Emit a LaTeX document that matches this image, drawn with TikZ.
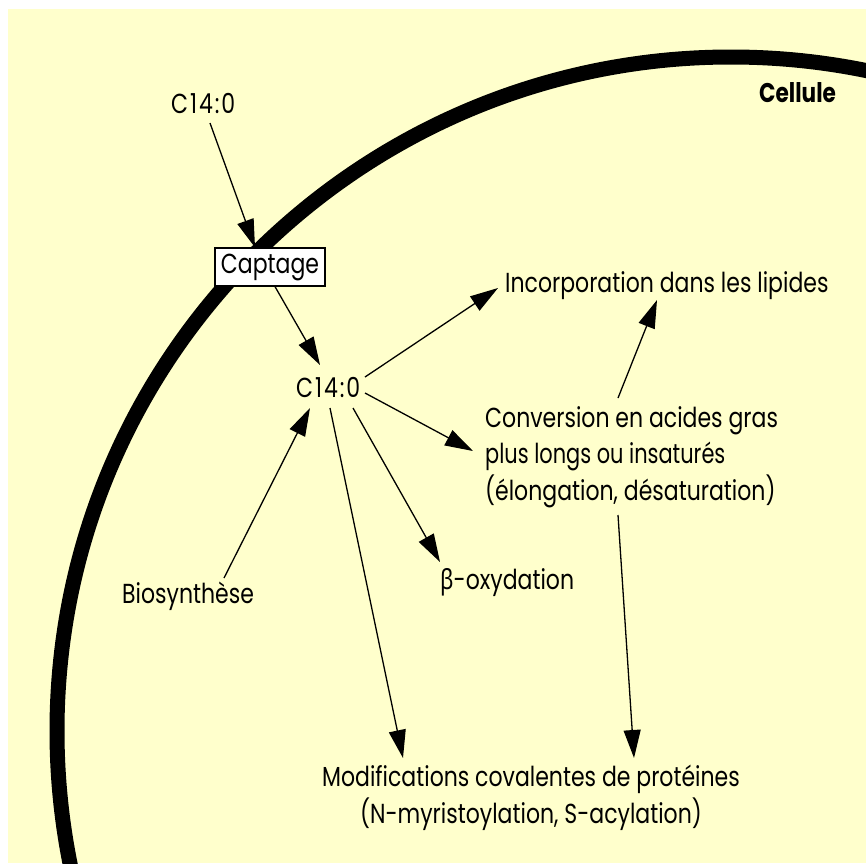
\documentclass[tikz,border=0pt]{standalone}
\usepackage{fontspec}
\setmainfont[FakeStretch=0.80]{Poppins}
\newfontfamily\grk[FakeStretch=0.80]{Noto Sans}
\usetikzlibrary{arrows.meta}
\definecolor{bg}{HTML}{FFFFCC}
\begin{document}
\begin{tikzpicture}[x=1pt,y=-1pt,
  txt/.style={inner sep=0pt, font=\fontsize{27.5}{33}\selectfont},
  arr/.style={-{Triangle[length=28pt,width=17pt]}, line width=1.3pt},
  membrane/.style={line width=15pt, draw=black}]
\useasboundingbox (0,0) rectangle (866,863);
\fill[white] (0,0) rectangle (866,863);
\fill[bg] (8,9) rectangle (866,863);
\begin{scope}
  \clip (8,9) rectangle (866,863);
  \draw[membrane] (731,731) circle[radius=674];
\end{scope}

\node[txt, anchor=base west, font=\fontsize{27.5}{33}\selectfont\addfontfeature{LetterSpace=7}] (c0) at (171,113) {C14:0};
\node[txt, anchor=base west, font=\fontsize{27}{32}\selectfont\bfseries] (cell) at (759,102) {Cellule};
\node[draw, fill=white, line width=1.2pt, minimum width=110pt, minimum height=38pt,
      inner sep=0pt, font=\fontsize{27.5}{33}\selectfont] (cap) at (270,267) {Captage};
\node[txt, anchor=base west, font=\fontsize{27.5}{33}\selectfont\addfontfeature{LetterSpace=7}] (c1) at (296,397) {C14:0};
\node[txt, anchor=base west] (inc) at (505,292) {Incorporation dans les lipides};
\node[txt, anchor=base west] (conv1) at (485,427) {Conversion en acides gras};
\node[txt, anchor=base west] (conv2) at (485,463) {\scalebox{0.95}[1]{plus longs ou insaturés}};
\node[txt, anchor=base west] (conv3) at (485,500) {(élongation, désaturation)};
\node[txt, anchor=base west] (beta) at (440,589) {{\grk β}-oxydation};
\node[txt, anchor=base west] (bio) at (122,603) {Biosynthèse};
\node[txt, anchor=base] (mod1) at (531,786) {Modifications covalentes de protéines};
\node[txt, anchor=base] (mod2) at (531,823) {(N-myristoylation, S-acylation)};

\draw[arr] ([xshift=39pt,yshift=-10pt]c0.base west) -- ([xshift=-15pt]cap.north);
\draw[arr] ([xshift=5pt]cap.south) -- ([xshift=24pt,yshift=32pt]c1.base west);
\draw[arr] ([xshift=69pt,yshift=20pt]c1.base west) -- ([xshift=-7pt,yshift=4pt]inc.base west);
\draw[arr] ([xshift=69pt,yshift=4pt]c1.base west) -- ([xshift=-12pt,yshift=-24pt]conv1.base west);
\draw[arr] ([xshift=133pt,yshift=29pt]conv1.base west) -- ([xshift=152pt,yshift=-8pt]inc.base west);
\draw[arr] ([xshift=133pt,yshift=-15pt]conv3.base west) -- ([xshift=103pt,yshift=28pt]mod1.base);
\draw[arr] ([xshift=57pt,yshift=-11pt]c1.base west) -- ([yshift=27pt]beta.base west);
\draw[arr] ([xshift=34pt,yshift=-11pt]c1.base west) -- ([xshift=-128pt,yshift=28pt]mod1.base);
\draw[arr] ([xshift=102pt,yshift=25pt]bio.base west) -- ([xshift=14pt,yshift=-11pt]c1.base west);
\end{tikzpicture}
\end{document}
